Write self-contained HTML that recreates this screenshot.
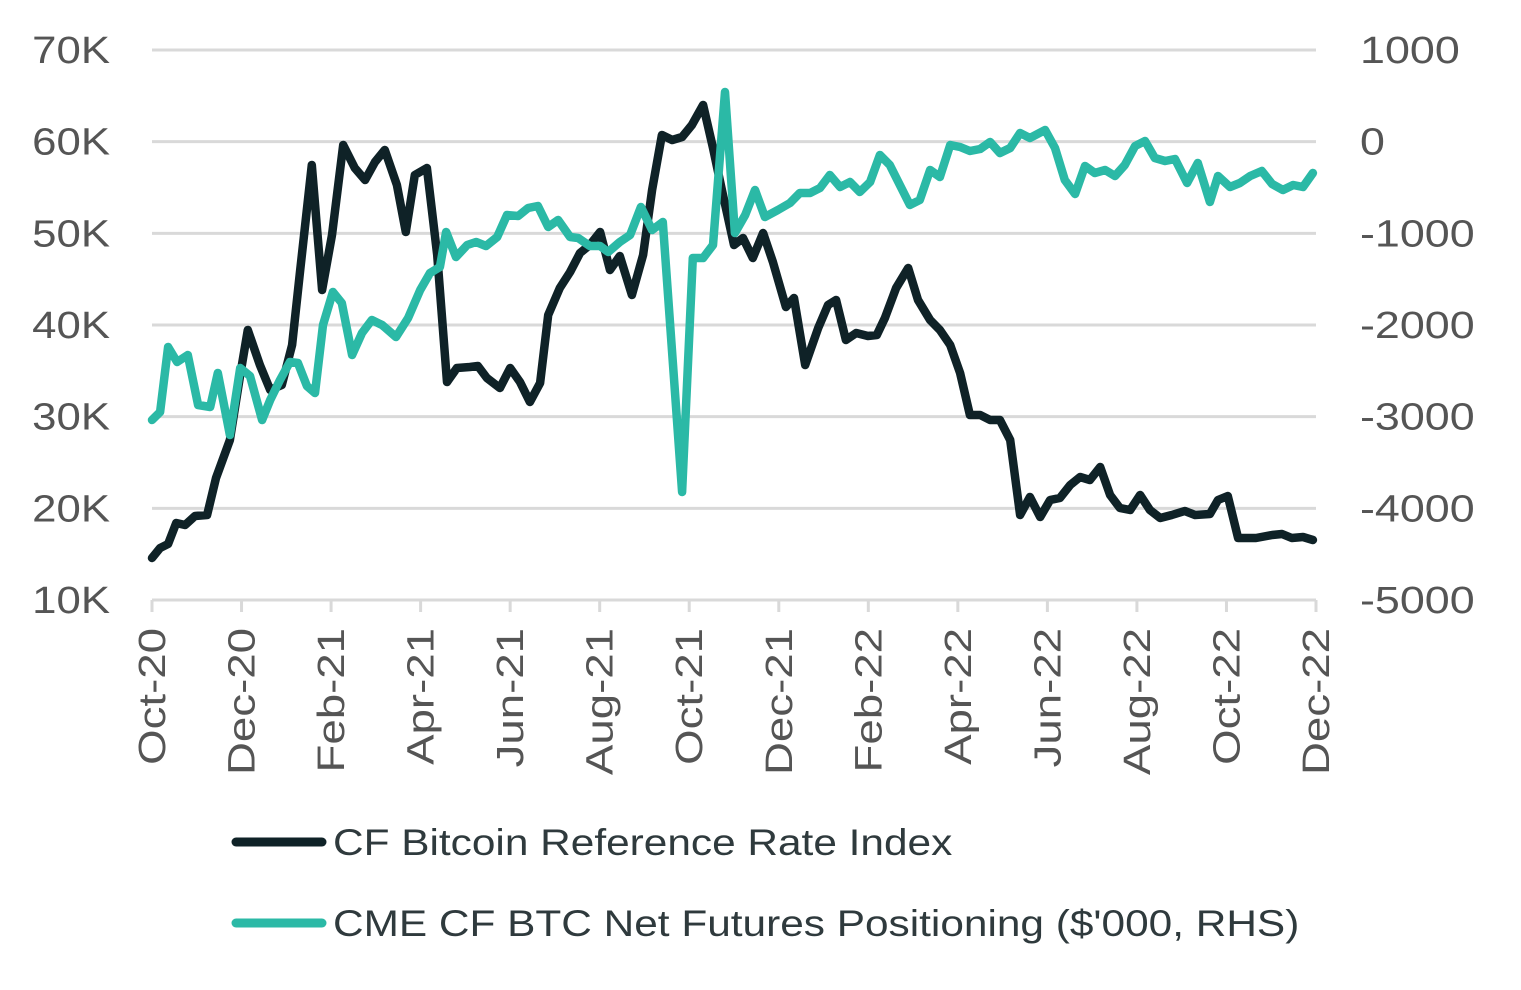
<!DOCTYPE html>
<html><head><meta charset="utf-8"><style>
html,body{margin:0;padding:0;background:#fff;width:1521px;height:990px;overflow:hidden}
svg text{font-family:"Liberation Sans",sans-serif}
</style></head><body>
<svg id="chart" width="1521" height="990" viewBox="0 0 1521 990" xmlns="http://www.w3.org/2000/svg">
<g id="grid"></g>
<g id="axes"></g>
<g id="series"></g>
<g>
 <g>
  <line x1="236" y1="842" x2="322" y2="842" stroke="#0f2227" stroke-width="9" stroke-linecap="round"/>
  <text class="lg" x="333" y="855" font-size="37" fill="#2f3a3d">CF Bitcoin Reference Rate Index</text>
 </g>
 <g>
  <line x1="236" y1="923" x2="322" y2="923" stroke="#2bb9a6" stroke-width="9" stroke-linecap="round"/>
  <text class="lg" x="333" y="936" font-size="37" fill="#2f3a3d">CME CF BTC Net Futures Positioning ($'000, RHS)</text>
 </g>
</g>
</svg>
<script>
const xLabels=["Oct-20","Dec-20","Feb-21","Apr-21","Jun-21","Aug-21","Oct-21","Dec-21","Feb-22","Apr-22","Jun-22","Aug-22","Oct-22","Dec-22"];
const leftTicks=[10,20,30,40,50,60,70];
const rightTicks=[-5000,-4000,-3000,-2000,-1000,0,1000];
const btcMonths=[0,0.18,0.36,0.54,0.74,0.96,1.23,1.43,1.74,1.97,2.14,2.41,2.64,2.90,3.13,3.31,3.57,3.80,4.02,4.27,4.53,4.76,4.98,5.20,5.47,5.67,5.87,6.14,6.37,6.59,6.81,7.10,7.28,7.48,7.77,8.00,8.22,8.44,8.67,8.85,9.11,9.34,9.56,9.78,10.01,10.23,10.45,10.72,10.97,11.17,11.39,11.62,11.84,12.06,12.31,12.53,12.73,13.00,13.20,13.42,13.65,13.87,14.16,14.34,14.59,14.88,15.10,15.28,15.50,15.73,15.99,16.19,16.37,16.62,16.89,17.11,17.38,17.60,17.83,18.05,18.27,18.50,18.72,18.94,19.17,19.39,19.61,19.84,20.06,20.28,20.51,20.73,20.95,21.18,21.40,21.62,21.85,22.07,22.29,22.52,22.78,23.07,23.30,23.63,23.81,24.03,24.26,24.66,25.02,25.24,25.46,25.71,25.93];
const btcValues=[14.58,15.67,16.11,18.40,18.18,19.16,19.27,23.31,27.45,34.55,39.45,35.64,32.91,33.45,37.82,46.00,57.45,43.82,49.82,59.64,57.13,55.82,57.78,59.09,55.27,50.15,56.36,57.13,47.64,33.78,35.31,35.42,35.53,34.22,33.13,35.31,33.78,31.60,33.67,41.09,44.04,45.78,47.85,48.73,50.15,46.00,47.53,43.27,47.64,54.73,60.73,60.18,60.51,61.82,64.00,59.31,54.73,48.73,49.49,47.31,50.04,46.87,41.96,42.95,35.64,39.67,42.18,42.73,38.36,39.13,38.80,38.91,40.76,44.04,46.22,42.73,40.55,39.45,37.82,34.76,30.18,30.18,29.64,29.64,27.45,19.27,21.24,19.05,20.91,21.13,22.55,23.42,23.09,24.51,21.45,20.04,19.82,21.45,19.82,18.95,19.27,19.71,19.27,19.38,20.91,21.35,16.76,16.76,17.09,17.20,16.76,16.87,16.55];
const cmeMonths=[0,0.18,0.36,0.56,0.80,1.03,1.30,1.47,1.74,1.97,2.19,2.46,2.64,2.86,3.08,3.26,3.46,3.64,3.82,4.04,4.24,4.47,4.69,4.91,5.14,5.45,5.72,5.99,6.21,6.43,6.57,6.79,7.04,7.24,7.46,7.71,7.93,8.18,8.40,8.62,8.85,9.07,9.34,9.52,9.78,10.01,10.19,10.45,10.68,10.92,11.17,11.41,11.84,12.08,12.31,12.53,12.80,13.02,13.25,13.47,13.69,13.98,14.25,14.47,14.70,14.92,15.14,15.37,15.59,15.81,16.04,16.26,16.48,16.93,17.15,17.38,17.60,17.83,18.05,18.27,18.50,18.72,18.94,19.17,19.39,19.61,19.95,20.17,20.39,20.62,20.84,21.06,21.29,21.51,21.73,21.96,22.18,22.40,22.63,22.85,23.12,23.36,23.63,23.81,24.08,24.30,24.53,24.79,25.02,25.26,25.49,25.71,25.93];
const cmeValues=[-3036,-2949,-2240,-2404,-2327,-2873,-2895,-2524,-3200,-2469,-2556,-3036,-2818,-2600,-2404,-2415,-2665,-2742,-2000,-1640,-1760,-2327,-2087,-1945,-2000,-2131,-1924,-1618,-1433,-1367,-985,-1258,-1127,-1095,-1138,-1040,-800,-811,-724,-702,-931,-855,-1040,-1051,-1138,-1138,-1204,-1095,-1018,-713,-964,-876,-3822,-1269,-1269,-1127,542,-996,-800,-527,-822,-745,-669,-560,-560,-505,-364,-495,-440,-549,-440,-145,-255,-691,-636,-309,-385,-36,-58,-102,-80,-4,-124,-69,95,40,127,-69,-418,-571,-265,-342,-309,-375,-255,-47,7,-178,-211,-189,-451,-233,-658,-375,-495,-451,-375,-320,-462,-527,-473,-495,-342];

const NS="http://www.w3.org/2000/svg";
const X0=152,X1=1316,Y0=600,Y1=50;
const xScale=m=>X0+(X1-X0)*m/26;
const yL=v=>Y0-(Y0-Y1)*(v-10)/60;
const yR=v=>Y0-(Y0-Y1)*(v+5000)/6000;
function mk(tag,attrs,parent){const e=document.createElementNS(NS,tag);for(const k in attrs)e.setAttribute(k,attrs[k]);parent.appendChild(e);return e;}
function widen(el,f){const w=el.getComputedTextLength();el.setAttribute('textLength',(w*f).toFixed(1));el.setAttribute('lengthAdjust','spacingAndGlyphs');}
const grid=document.getElementById('grid'),axes=document.getElementById('axes'),series=document.getElementById('series');
leftTicks.forEach((t,i)=>{
  const y=yL(t);
  if(t!==10){const g=mk('line',{x1:X0,x2:X1,y1:y,y2:y,stroke:'#d9d9d9','stroke-width':3},grid);
  
  }
  const tx=mk('text',{x:110,y:y+13,'font-size':38,'text-anchor':'end',fill:'#555'},axes);tx.textContent=t+'K';
  
  
  widen(tx,1.15);
});
rightTicks.forEach(t=>{
  const tx=mk('text',{x:1360,y:yR(t)+13,'font-size':38,fill:'#555'},axes);tx.textContent=t;
  
  
  widen(tx,1.18);
});
const ax=mk('line',{x1:X0,x2:X1,y1:Y0,y2:Y0,stroke:'#d9d9d9','stroke-width':3},axes);


xLabels.forEach((l,i)=>{
  const x=xScale(i*2);
  const tk=mk('line',{x1:x,x2:x,y1:Y0,y2:Y0+12,stroke:'#d9d9d9','stroke-width':3},axes);
  
  
  const tx=mk('text',{x:0,y:0,'font-size':38,'text-anchor':'end',fill:'#555',transform:`translate(${x+13},628) rotate(-90)`},axes);tx.textContent=l;
  
  
  widen(tx,1.2);
});
document.querySelectorAll('.lg').forEach(t=>widen(t,1.145));
function line(ms,vs,ys,color,name){
  const d=ms.map((m,i)=>(i?'L':'M')+xScale(m).toFixed(1)+','+ys(vs[i]).toFixed(1)).join('');
  const p=mk('path',{d:d,fill:'none',stroke:color,'stroke-width':8.5,'stroke-linejoin':'round','stroke-linecap':'round'},series);
  
  
}
line(btcMonths,btcValues,yL,'#0f2227','btc-line');
line(cmeMonths,cmeValues,yR,'#2bb9a6','cme-line');
</script>
</body></html>
